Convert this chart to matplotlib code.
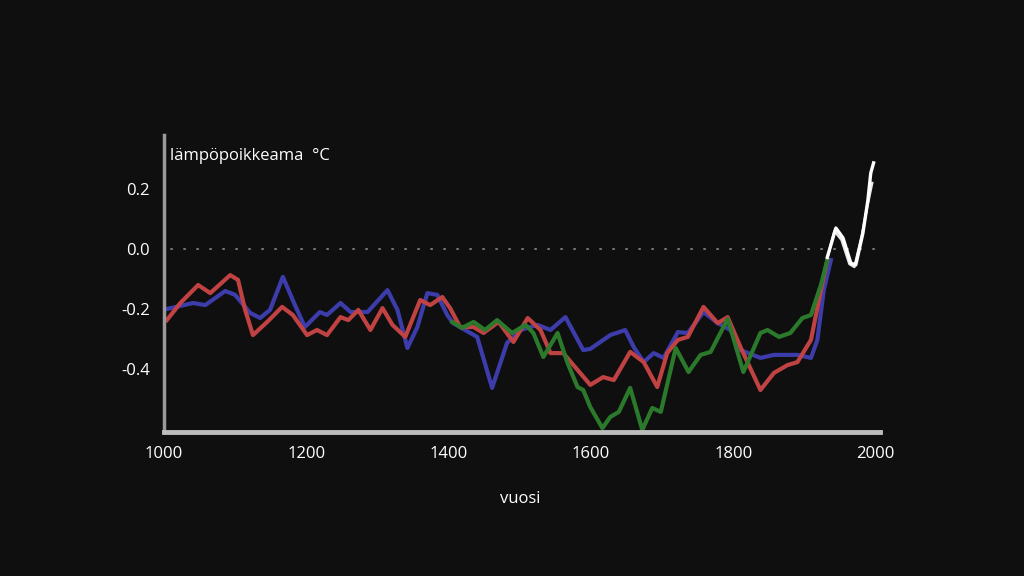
import matplotlib.pyplot as plt

# Reconstruction series (year, temperature anomaly in C)
blue_years = [1004, 1041, 1058, 1086, 1100, 1121, 1135, 1149, 1167, 1184, 1198, 1219, 1229,
              1248, 1262, 1286, 1314, 1328, 1342, 1356, 1370, 1384, 1398, 1406, 1440, 1461,
              1482, 1501, 1525, 1543, 1564, 1589, 1599, 1627, 1648, 1660, 1674, 1688, 1702,
              1722, 1736, 1758, 1778, 1796, 1810, 1838, 1857, 1876, 1890, 1909, 1918, 1927, 1937]
blue_vals = [-0.20, -0.18, -0.187, -0.14, -0.153, -0.213, -0.23, -0.203, -0.093, -0.187, -0.26,
             -0.21, -0.22, -0.18, -0.21, -0.21, -0.137, -0.203, -0.33, -0.26, -0.147, -0.153,
             -0.22, -0.247, -0.293, -0.463, -0.313, -0.27, -0.253, -0.27, -0.227, -0.337, -0.333,
             -0.287, -0.27, -0.327, -0.377, -0.347, -0.363, -0.277, -0.28, -0.21, -0.247, -0.27,
             -0.337, -0.363, -0.353, -0.353, -0.353, -0.363, -0.303, -0.137, -0.037]

red_years = [1004, 1023, 1048, 1065, 1093, 1104, 1114, 1125, 1145, 1166, 1181, 1201, 1215, 1229,
             1248, 1259, 1273, 1290, 1307, 1321, 1339, 1360, 1374, 1391, 1402, 1416, 1435, 1449,
             1470, 1491, 1511, 1529, 1543, 1561, 1581, 1599, 1617, 1632, 1655, 1674, 1693, 1707,
             1722, 1736, 1758, 1778, 1792, 1810, 1838, 1857, 1876, 1890, 1909, 1923, 1932]
red_vals = [-0.237, -0.18, -0.12, -0.147, -0.087, -0.103, -0.203, -0.287, -0.243, -0.193, -0.22,
            -0.287, -0.27, -0.287, -0.227, -0.237, -0.203, -0.27, -0.197, -0.253, -0.293, -0.17,
            -0.187, -0.16, -0.197, -0.26, -0.26, -0.28, -0.243, -0.31, -0.23, -0.27, -0.347,
            -0.347, -0.403, -0.453, -0.427, -0.437, -0.343, -0.377, -0.46, -0.347, -0.303, -0.293,
            -0.193, -0.247, -0.227, -0.327, -0.47, -0.413, -0.387, -0.377, -0.303, -0.137, -0.037]

green_years = [1405, 1419, 1435, 1451, 1468, 1489, 1508, 1519, 1533, 1553, 1567, 1581, 1589,
               1599, 1616, 1627, 1639, 1655, 1672, 1686, 1698, 1719, 1737, 1754, 1768, 1792,
               1814, 1838, 1848, 1864, 1880, 1897, 1909, 1923, 1932]
green_vals = [-0.243, -0.263, -0.243, -0.27, -0.237, -0.28, -0.253, -0.28, -0.36, -0.28, -0.38,
              -0.46, -0.47, -0.527, -0.597, -0.56, -0.543, -0.463, -0.603, -0.53, -0.543, -0.33,
              -0.41, -0.353, -0.343, -0.233, -0.41, -0.28, -0.27, -0.293, -0.28, -0.23, -0.22,
              -0.12, -0.037]

# Instrumental record (two versions)
white_years = [1932, 1944, 1954, 1965, 1972, 1982, 1989, 1993, 1997]
white_vals = [-0.027, 0.07, 0.037, -0.047, -0.053, 0.053, 0.163, 0.253, 0.287]
white2_years = [1932, 1942, 1952, 1963, 1970, 1980, 1988, 1995]
white2_vals = [-0.03, 0.06, 0.03, -0.05, -0.06, 0.04, 0.14, 0.22]

x_ticks = [1000, 1200, 1400, 1600, 1800, 2000]
y_ticks = [0.2, 0.0, -0.2, -0.4]

bg = '#0f0f0f'
plt.rcParams['font.family'] = ['Open Sans', 'DejaVu Sans']

fig = plt.figure(figsize=(10.24, 5.76), dpi=100, facecolor=bg)
ax = fig.add_axes([164 / 1024, 144 / 576, 716 / 1024, 297 / 576], facecolor=bg)

# dotted zero line
ax.axhline(0, color='#8a8a8a', lw=1.2, ls=(4, (1.5, 6.3)), xmax=0.995)

lw = 3.0
ax.plot(blue_years, blue_vals, color='#3c3cab', lw=lw, solid_joinstyle='round')
ax.plot(red_years, red_vals, color='#c04242', lw=lw, solid_joinstyle='round')
ax.plot(green_years, green_vals, color='#2b7a2b', lw=lw, solid_joinstyle='round')
ax.plot(white2_years, white2_vals, color='#e8e8e8', lw=1.8, solid_joinstyle='round')
ax.plot(white_years, white_vals, color='white', lw=2.4, solid_joinstyle='round')

ax.set_xlim(1000, 2006)
ax.set_ylim(-0.61, 0.38)
ax.set_xticks(x_ticks)
ax.set_xticklabels([str(v) for v in x_ticks])
ax.set_yticks(y_ticks)
ax.set_yticklabels([f'{v:.1f}' for v in y_ticks])
ax.tick_params(colors='white', labelsize=12, length=0, pad=10)

for s in ['top', 'right']:
    ax.spines[s].set_visible(False)
ax.spines['left'].set_color('#9a9a9a')
ax.spines['left'].set_linewidth(2.5)
ax.spines['bottom'].set_color('#bdbdbd')
ax.spines['bottom'].set_linewidth(3.5)

ax.text(0.008, 0.93, 'lämpöpoikkeama  °C', transform=ax.transAxes, color='white',
        fontsize=12, va='center', ha='left')
fig.text(520 / 1024, 1 - 499 / 576, 'vuosi', color='white', fontsize=12,
         ha='center', va='center')

fig.savefig('out.png', dpi=100, facecolor=bg)
